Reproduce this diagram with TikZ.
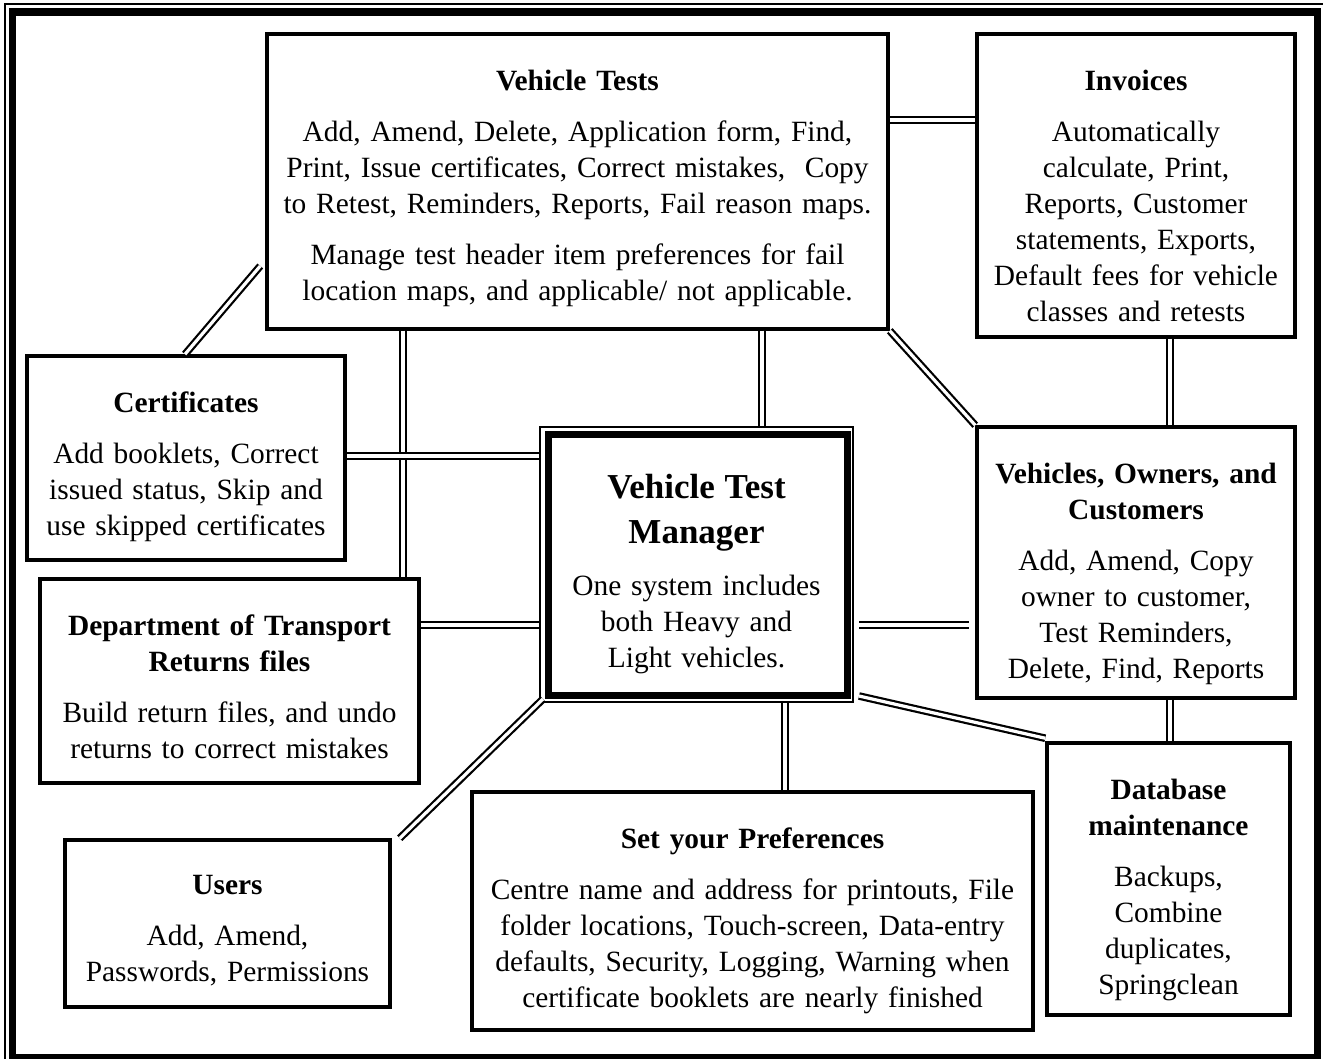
\documentclass[tikz,border=0pt]{standalone}
\usepackage{fontspec}
\setmainfont{Liberation Serif}
\usetikzlibrary{fit,positioning}
\tikzset{
  box/.style={draw, line width=1.75pt, inner sep=0pt},
  txt/.style={align=center, inner sep=0pt, font=\fontsize{14.7}{18}\selectfont},
  link/.style={double, line width=1.1pt, double distance=1.6pt},
}
\newcommand{\hd}[1]{\textbf{#1}}
\newcommand{\bighd}[1]{{\fontsize{17.5}{18}\selectfont\bfseries #1}}

\begin{document}
\begin{tikzpicture}[x=0.5pt, y=-0.5pt]
  \useasboundingbox (0,0) rectangle (1323,1059);
  \clip (0,0) rectangle (1323,1059);

  % page frame, thin + thick
  \draw[line width=1pt] (5,4) rectangle (1340,1075);
  \draw[line width=3.75pt] (12.5,12) rectangle (1317.5,1058);

  % boxes
  \node[box, fit={(267,34) (888,329)}] (vt) {};
  \node[box, fit={(977,34) (1295,337)}] (inv) {};
  \node[box, fit={(27,356) (345,560)}] (cert) {};
  \node[box, fit={(977,427) (1295,698)}] (voc) {};
  \node[box, fit={(40,579) (419,783)}] (dot) {};
  \node[box, fit={(65,840) (390,1007)}] (usr) {};
  \node[box, fit={(472,792) (1033,1030)}] (pref) {};
  \node[box, fit={(1047,743) (1290,1015)}] (db) {};

  % the manager box: thin outside, thick inside
  \node[draw, line width=1pt, inner sep=0pt, fit={(540,427) (853,702)}] (vtm) {};
  \draw[line width=3.5pt] ([shift={(4.5pt,-4pt)}]vtm.north west)
    rectangle ([shift={(-3.5pt,4pt)}]vtm.south east);

  % texts
  \node[txt, text width=310pt, below=18.5pt of vt.north] (vt-t) {\hd{Vehicle Tests}\\[7.5pt]
    Add, Amend, Delete, Application form, Find,\\
    Print, Issue certificates, Correct mistakes,~ Copy\\
    to Retest, Reminders, Reports, Fail reason maps.\\[7.5pt]
    Manage test header item preferences for fail\\
    location maps, and applicable/ not applicable.};
  \node[txt, text width=159pt, below=18.5pt of inv.north] (inv-t) {\hd{Invoices}\\[7.5pt]
    Automatically\\ calculate, Print,\\ Reports, Customer\\
    statements, Exports,\\ Default fees for vehicle\\ classes and retests};
  \node[txt, text width=159pt, below=18.5pt of cert.north] (cert-t) {\hd{Certificates}\\[7.5pt]
    Add booklets, Correct\\ issued status, Skip and\\ use skipped certificates};
  \node[txt, text width=156pt, below=24pt of vtm.north] (vtm-t) {\bighd{Vehicle Test}\\[4.5pt]
    \bighd{Manager}\\[8pt]
    One system includes\\ both Heavy and\\ Light vehicles.};
  \node[txt, text width=159pt, below=18.5pt of voc.north] (voc-t) {\hd{Vehicles, Owners, and}\\
    \hd{Customers}\\[7.5pt]
    Add, Amend, Copy\\ owner to customer,\\ Test Reminders,\\ Delete, Find, Reports};
  \node[txt, text width=190pt, below=18.5pt of dot.north] (dot-t) {\hd{Department of Transport}\\
    \hd{Returns files}\\[7.5pt]
    Build return files, and undo\\ returns to correct mistakes};
  \node[txt, text width=162pt, below=18.5pt of usr.north] (usr-t) {\hd{Users}\\[7.5pt]
    Add, Amend,\\ Passwords, Permissions};
  \node[txt, text width=280pt, below=18.5pt of pref.north] (pref-t) {\hd{Set your Preferences}\\[7.5pt]
    Centre name and address for printouts, File\\
    folder locations, Touch-screen, Data-entry\\
    defaults, Security, Logging, Warning when\\
    certificate booklets are nearly finished};
  \node[txt, text width=121pt, below=18.5pt of db.north] (db-t) {\hd{Database}\\ \hd{maintenance}\\[7.5pt]
    Backups,\\ Combine\\ duplicates,\\ Springclean};

  % connectors
  \draw[link] (vt.east |- 0,120) -- (inv.west |- 0,120);
  \draw[link] (cert.north -| 185,0) -- ([xshift=-2.5pt]vt.west |- 0,266);
  \draw[link] (vt.south -| 403,0) -- (dot.north -| 403,0);
  \draw[link] (vt.south -| 762,0) -- (vtm.north -| 762,0);
  \draw[link] (vt.south east) -- (voc.north west);
  \draw[link] (inv.south -| 1170,0) -- (voc.north -| 1170,0);
  \draw[link] (cert.east |- 0,456) -- (vtm.west |- 0,456);
  \draw[link] (dot.east |- 0,625) -- (vtm.west |- 0,625);
  \draw[link] ([xshift=2.5pt]vtm.east |- 0,625) -- ([xshift=-3pt]voc.west |- 0,625);
  \draw[link] ([shift={(2pt,2pt)}]vtm.south west) -- ([xshift=4pt]usr.north east);
  \draw[link] (vtm.south -| 785,0) -- (pref.north -| 785,0);
  \draw[link] ([shift={(2.5pt,3.5pt)}]vtm.south east) -- ([yshift=1.5pt]db.north west);
  \draw[link] (voc.south -| 1170,0) -- (db.north -| 1170,0);
\end{tikzpicture}
\end{document}
